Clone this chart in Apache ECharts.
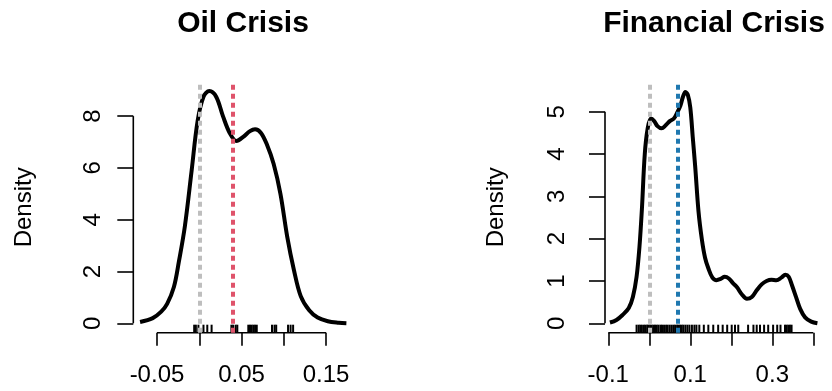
<!DOCTYPE html>
<html>
<head>
<meta charset="utf-8">
<script src="https://cdn.jsdelivr.net/npm/echarts@6/dist/echarts.min.js"></script>
<style>
  html, body { margin: 0; padding: 0; background: #fff; }
  #chart { width: 832px; height: 391px; }
</style>
</head>
<body>
<div id="chart"></div>
<script>
// Oil Crisis - density curve
const oilX = [-0.070, -0.055, -0.045, -0.038, -0.030, -0.024, -0.017, -0.009, -0.002, 0.005, 0.012, 0.020, 0.028, 0.036, 0.044, 0.052, 0.060, 0.066, 0.073, 0.080, 0.088, 0.096, 0.104, 0.112, 0.120, 0.130, 0.140, 0.152, 0.165, 0.174]
const oilY = [0.05, 0.20, 0.45, 0.75, 1.40, 2.40, 3.75, 5.90, 7.80, 8.75, 8.97, 8.75, 8.00, 7.35, 7.04, 7.20, 7.42, 7.49, 7.35, 6.90, 6.15, 5.00, 3.35, 2.05, 1.05, 0.50, 0.22, 0.08, 0.02, 0.0]
const oilRug = [-0.006, -0.004, -0.001, 0.005, 0.0095, 0.0146, 0.038, 0.040, 0.043, 0.045, 0.058, 0.060, 0.062, 0.064, 0.066, 0.068, 0.086, 0.089, 0.091, 0.105, 0.108, 0.111]
const oilTicksX = [-0.05, 0, 0.05, 0.1, 0.15]
const oilLabelsX = [-0.05, 0.05, 0.15]
const oilTicksY = [0, 2, 4, 6, 8]
const oilRef = [0, 0.042]

// Financial Crisis
const finX = [-0.096, -0.080, -0.065, -0.050, -0.040, -0.031, -0.024, -0.018, -0.011, -0.004, 0.004, 0.012, 0.020, 0.030, 0.040, 0.050, 0.060, 0.068, 0.076, 0.082, 0.088, 0.094, 0.100, 0.106, 0.112, 0.120, 0.128, 0.136, 0.144, 0.154, 0.164, 0.174, 0.184, 0.194, 0.204, 0.214, 0.226, 0.238, 0.250, 0.262, 0.274, 0.286, 0.298, 0.310, 0.322, 0.332, 0.340, 0.348, 0.358, 0.368, 0.380, 0.395, 0.410]
const finY = [0.02, 0.08, 0.20, 0.36, 0.62, 1.10, 1.80, 2.70, 4.00, 4.60, 4.84, 4.78, 4.66, 4.61, 4.68, 4.78, 4.84, 4.98, 5.15, 5.35, 5.47, 5.40, 5.10, 4.40, 3.70, 2.65, 2.00, 1.55, 1.30, 1.08, 1.02, 1.05, 1.10, 1.06, 0.95, 0.85, 0.68, 0.58, 0.62, 0.78, 0.92, 1.00, 1.03, 1.02, 1.08, 1.15, 1.10, 0.90, 0.62, 0.34, 0.14, 0.04, 0.0]
const finRug = [-0.031, -0.026, -0.022, -0.018, -0.013, -0.009, -0.005, -0.002, 0.002, 0.006, 0.010, 0.014, 0.018, 0.022, 0.027, 0.031, 0.036, 0.041, 0.045, 0.050, 0.055, 0.060, 0.064, 0.068, 0.071, 0.075, 0.079, 0.083, 0.088, 0.093, 0.098, 0.104, 0.110, 0.115,
  0.122, 0.133, 0.144, 0.156, 0.168, 0.179, 0.190, 0.201, 0.209, 0.217, 0.241, 0.254, 0.262, 0.270, 0.280, 0.290, 0.302, 0.312, 0.320, 0.331, 0.335, 0.339, 0.343, 0.347]
const finTicksX = [-0.1, 0, 0.1, 0.2, 0.3, 0.4]
const finLabelsX = [-0.1, 0.1, 0.3]
const finTicksY = [0, 1, 2, 3, 4, 5]
const finRef = [0, 0.073]

const font = 'Liberation Sans, Arial, sans-serif'

const panels = [
  {
    title: 'Oil Crisis', titleX: 243, xs: oilX, ys: oilY, rug: oilRug,
    ticksX: oilTicksX, labelsX: oilLabelsX, ticksY: oilTicksY, ref: oilRef, refColor: '#DF536B',
    grid: { left: 133.3, width: 220.7, top: 82, height: 250.7 },
    xMin: -0.078, xMax: 0.183, yMin: -0.363, yMax: 9.317, yLabelMargin: 28, nameGap: 97
  },
  {
    title: 'Financial Crisis', titleX: 714, xs: finX, ys: finY, rug: finRug,
    ticksX: finTicksX, labelsX: finLabelsX, ticksY: finTicksY, ref: finRef, refColor: '#1F78B0',
    grid: { left: 605, width: 224.7, top: 82, height: 250.7 },
    xMin: -0.108, xMax: 0.44, yMin: -0.222, yMax: 5.704, yLabelMargin: 36, nameGap: 97
  }
]

const chart = echarts.init(document.getElementById('chart'), null, { renderer: 'canvas' })

const option = {
  animation: false,
  backgroundColor: '#fff',
  title: panels.map(p => ({
    text: p.title,
    left: p.titleX,
    top: 9,
    padding: 0,
    textAlign: 'center',
    textStyle: { fontFamily: font, fontSize: 30, fontWeight: 'bold', color: '#000' }
  })),
  grid: panels.map(p => Object.assign({ outerBoundsMode: 'none' }, p.grid)),
  xAxis: panels.map((p, i) => ({
    type: 'value',
    gridIndex: i,
    min: p.xMin,
    max: p.xMax,
    axisLine: { show: false, onZero: false },
    splitLine: { show: false },
    axisTick: { show: true, customValues: p.ticksX, length: 13, lineStyle: { color: '#000', width: 1.6 } },
    axisLabel: { customValues: p.labelsX, margin: 31, fontSize: 24, fontFamily: font, color: '#000' }
  })),
  yAxis: panels.map((p, i) => ({
    type: 'value',
    gridIndex: i,
    min: p.yMin,
    max: p.yMax,
    name: 'Density',
    nameLocation: 'middle',
    nameRotate: 90,
    nameGap: p.nameGap,
    nameTextStyle: { fontSize: 24, fontFamily: font, color: '#000' },
    axisLine: { show: false, onZero: false },
    splitLine: { show: false },
    axisTick: { show: true, customValues: p.ticksY, length: 16, lineStyle: { color: '#000', width: 1.6 } },
    axisLabel: { customValues: p.ticksY, rotate: 90, margin: p.yLabelMargin, fontSize: 24, fontFamily: font, color: '#000' }
  })),
  series: []
}

panels.forEach((p, i) => {
  // density curve + reference lines
  option.series.push({
    type: 'line',
    xAxisIndex: i,
    yAxisIndex: i,
    data: p.xs.map((x, k) => [x, p.ys[k]]),
    smooth: 0.35,
    showSymbol: false,
    lineStyle: { color: '#000', width: 4 },
    z: 3,
    markLine: {
      silent: true,
      symbol: ['none', 'none'],
      label: { show: false },
      data: [
        { xAxis: p.ref[0], lineStyle: { color: '#BEBEBE', width: 4, type: [5, 4] } },
        { xAxis: p.ref[1], lineStyle: { color: p.refColor, width: 4, type: [5, 4] } }
      ]
    }
  })
  // rug
  option.series.push({
    type: 'custom',
    xAxisIndex: i,
    yAxisIndex: i,
    data: p.rug.map(v => [v, 0]),
    encode: { x: 0, y: 1 },
    clip: false,
    z: 2,
    renderItem: (params, api) => {
      const pt = api.coord([api.value(0), 0])
      const bottom = params.coordSys.y + params.coordSys.height
      return {
        type: 'line',
        shape: { x1: pt[0], y1: bottom, x2: pt[0], y2: bottom - 8 },
        style: { stroke: '#000', lineWidth: 2 }
      }
    }
  })
  // R style axis lines, only across the tick range
  option.series.push({
    type: 'line',
    xAxisIndex: i,
    yAxisIndex: i,
    data: [[p.ticksX[0], p.yMin], [p.ticksX[p.ticksX.length - 1], p.yMin]],
    showSymbol: false,
    clip: false,
    silent: true,
    lineStyle: { color: '#000', width: 1.6 },
    z: 1
  })
  option.series.push({
    type: 'line',
    xAxisIndex: i,
    yAxisIndex: i,
    data: [[p.xMin, p.ticksY[0]], [p.xMin, p.ticksY[p.ticksY.length - 1]]],
    showSymbol: false,
    clip: false,
    silent: true,
    lineStyle: { color: '#000', width: 1.6 },
    z: 1
  })
})

chart.setOption(option)
</script>
</body>
</html>
